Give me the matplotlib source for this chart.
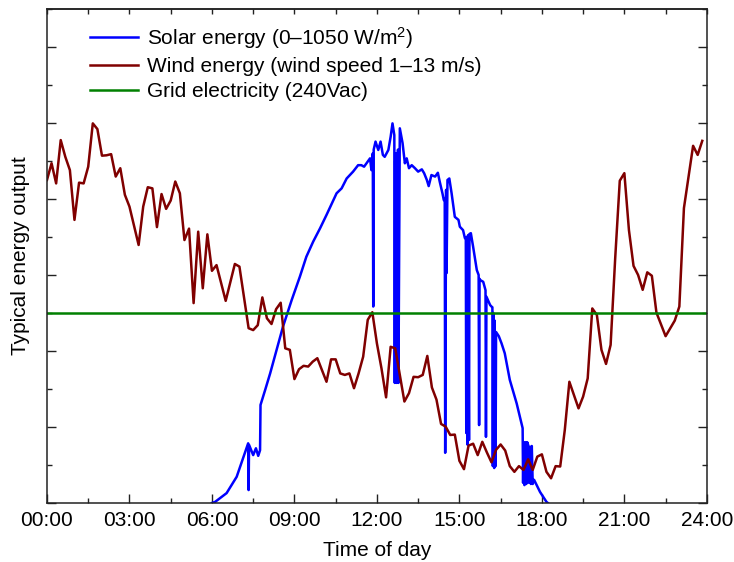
import matplotlib
matplotlib.use("Agg")
import matplotlib.pyplot as plt
from matplotlib.ticker import MultipleLocator
import numpy as np

plt.rcParams["font.family"] = ["Liberation Sans", "DejaVu Sans"]
plt.rcParams["mathtext.fontset"] = "custom"
plt.rcParams["mathtext.rm"] = "Liberation Sans"
plt.rcParams["mathtext.it"] = "Liberation Sans:italic"

# ---- data -------------------------------------------------------------
# Wind output, sampled every 10 minutes (time in minutes after midnight)
wind_minutes = [
    0, 10, 20, 30, 40, 50, 60, 70, 80, 90, 100, 110, 120, 130, 140, 150, 160, 170,
    180, 200, 210, 220, 230, 240, 250, 260, 270, 280, 290, 300, 310, 320, 330, 340,
    350, 360, 370, 390, 410, 420, 440, 450, 460, 470, 480, 490, 500, 510, 520, 530,
    540, 550, 560, 570, 580, 590, 610, 620, 630, 640, 650, 660, 670, 680, 690, 700,
    710, 720, 730, 740, 750, 760, 780, 790, 800, 810, 820, 830, 840, 850, 860, 870,
    880, 890, 900, 910, 920, 930, 940, 950, 960, 970, 980, 990, 1000, 1010, 1020,
    1030, 1040, 1050, 1060, 1070, 1080, 1090, 1100, 1110, 1120, 1130, 1140, 1160,
    1170, 1180, 1190, 1200, 1210, 1220, 1230, 1240, 1250, 1260, 1270, 1280, 1290,
    1300, 1310, 1320, 1330, 1350, 1370, 1380, 1390, 1410, 1420, 1430,
]
wind_output = [
    0.850, 0.894, 0.841, 0.955, 0.911, 0.876, 0.745, 0.843, 0.841, 0.885, 0.999,
    0.984, 0.914, 0.915, 0.918, 0.859, 0.881, 0.811, 0.780, 0.679, 0.780, 0.831,
    0.828, 0.726, 0.813, 0.774, 0.796, 0.846, 0.815, 0.692, 0.722, 0.526, 0.714,
    0.565, 0.707, 0.611, 0.626, 0.532, 0.629, 0.622, 0.460, 0.455, 0.468, 0.541,
    0.486, 0.471, 0.510, 0.527, 0.407, 0.403, 0.326, 0.352, 0.361, 0.359, 0.372,
    0.381, 0.319, 0.378, 0.378, 0.341, 0.337, 0.341, 0.302, 0.341, 0.385, 0.482,
    0.502, 0.420, 0.354, 0.278, 0.411, 0.407, 0.267, 0.289, 0.332, 0.331, 0.337,
    0.387, 0.304, 0.272, 0.208, 0.201, 0.179, 0.180, 0.111, 0.089, 0.151, 0.156,
    0.126, 0.161, 0.133, 0.107, 0.140, 0.154, 0.138, 0.097, 0.082, 0.097, 0.087,
    0.115, 0.087, 0.122, 0.128, 0.082, 0.065, 0.097, 0.096, 0.192, 0.319, 0.249,
    0.280, 0.328, 0.512, 0.495, 0.403, 0.366, 0.416, 0.644, 0.848, 0.868, 0.718,
    0.624, 0.600, 0.561, 0.607, 0.598, 0.501, 0.439, 0.480, 0.517, 0.776, 0.940,
    0.916, 0.953,
]

# Solar output (normalised to 1050 W/m2), time in minutes after midnight
solar_minutes = [
    360, 367, 392, 414, 439, 440, 441, 450, 456, 461, 465, 466, 476, 487, 501, 515,
    534, 552, 566, 581, 596, 610, 625, 632, 643, 654, 668, 679, 686, 692, 698, 705,
    708, 711, 712, 713, 717, 723, 728, 733, 737, 745, 750, 754, 758, 759, 760, 761,
    762, 763, 764, 765, 766, 767, 770, 776, 781, 785, 790, 796, 803, 810, 818, 823,
    829, 833, 839, 847, 853, 857, 863, 866, 868, 869, 871, 872, 874, 878, 883, 890,
    898, 901, 908, 912, 914, 915, 916, 918, 919, 921, 922, 925, 930, 938, 942, 943,
    944, 945, 952, 957, 958, 959, 967, 970, 972, 973, 974, 976, 977, 979, 980, 986,
    992, 999, 1010, 1025, 1038, 1039, 1040, 1042, 1044, 1046, 1048, 1050, 1052,
    1054, 1056, 1058, 1060, 1063, 1076, 1090, 1093,
]
solar_output = [
    0.000, 0.003, 0.026, 0.069, 0.157, 0.034, 0.153, 0.126, 0.144, 0.124, 0.139,
    0.258, 0.297, 0.341, 0.403, 0.464, 0.534, 0.596, 0.648, 0.688, 0.723, 0.758,
    0.797, 0.815, 0.828, 0.854, 0.872, 0.889, 0.889, 0.885, 0.895, 0.907, 0.876,
    0.920, 0.517, 0.930, 0.951, 0.929, 0.951, 0.916, 0.911, 0.929, 0.964, 0.999,
    0.968, 0.316, 0.900, 0.324, 0.920, 0.316, 0.900, 0.320, 0.930, 0.316, 0.986,
    0.947, 0.894, 0.907, 0.881, 0.889, 0.881, 0.872, 0.878, 0.868, 0.850, 0.834,
    0.863, 0.859, 0.869, 0.846, 0.815, 0.797, 0.800, 0.132, 0.824, 0.605, 0.850,
    0.854, 0.815, 0.753, 0.745, 0.727, 0.718, 0.697, 0.697, 0.184, 0.700, 0.153,
    0.705, 0.166, 0.708, 0.710, 0.674, 0.613, 0.600, 0.205, 0.590, 0.587, 0.582,
    0.560, 0.174, 0.543, 0.521, 0.517, 0.515, 0.097, 0.500, 0.092, 0.480, 0.097,
    0.450, 0.439, 0.420, 0.394, 0.324, 0.262, 0.197, 0.053, 0.160, 0.047, 0.160,
    0.050, 0.160, 0.153, 0.053, 0.148, 0.050, 0.150, 0.050, 0.061, 0.029, 0.003,
    0.000,
]

grid_level = 0.5

hour_ticks = [0, 3, 6, 9, 12, 15, 18, 21, 24]
hour_labels = ["00:00", "03:00", "06:00", "09:00", "12:00", "15:00", "18:00",
               "21:00", "24:00"]

# ---- figure -----------------------------------------------------------
fig = plt.figure(figsize=(7.34, 5.62), dpi=100)
ax = fig.add_axes([0.064, 0.105, 0.899, 0.879])

ax.plot(np.array(solar_minutes) / 60.0, solar_output, color="#0000ff", lw=1.8,
        label="Solar energy (0\u20131050 W/m$^2$)")
ax.plot(np.array(wind_minutes) / 60.0, wind_output, color="#800000", lw=1.8,
        label="Wind energy (wind speed 1\u201313 m/s)")
ax.axhline(grid_level, color="#008000", lw=1.8,
           label="Grid electricity (240Vac)")

ax.set_xlim(0, 24)
ax.set_ylim(0, 1.3)
ax.set_xticks(hour_ticks)
ax.set_xticklabels(hour_labels, fontsize=15)
ax.xaxis.set_minor_locator(MultipleLocator(1.5))
ax.yaxis.set_major_locator(MultipleLocator(0.2))
ax.yaxis.set_minor_locator(MultipleLocator(0.1))
ax.set_yticklabels([])

ax.tick_params(axis="both", which="both", direction="in", width=1.0,
               color="#222222")
ax.tick_params(axis="x", which="major", length=6.5, pad=6, top=False)
ax.tick_params(axis="x", which="minor", length=3.6, top=False)
ax.tick_params(axis="y", which="major", length=6.5, right=True)
ax.tick_params(axis="y", which="minor", length=3.4, right=True)

top = ax.secondary_xaxis("top")
top.set_xticks(hour_ticks)
top.xaxis.set_minor_locator(MultipleLocator(1.5))
top.tick_params(which="both", direction="in", width=1.0, length=3.3,
                labeltop=False, color="#222222")

for s in list(ax.spines.values()) + list(top.spines.values()):
    s.set_linewidth(1.1)
    s.set_color("#222222")

ax.set_xlabel("Time of day", fontsize=15, labelpad=8)
ax.set_ylabel("Typical energy output", fontsize=15, labelpad=9)

ax.legend(loc="upper left", bbox_to_anchor=(0.065, 0.968), frameon=False,
          fontsize=15, handlelength=2.3, handletextpad=0.45, labelspacing=0.3,
          borderpad=0, borderaxespad=0)

fig.savefig("out.png", dpi=100, facecolor="white")
